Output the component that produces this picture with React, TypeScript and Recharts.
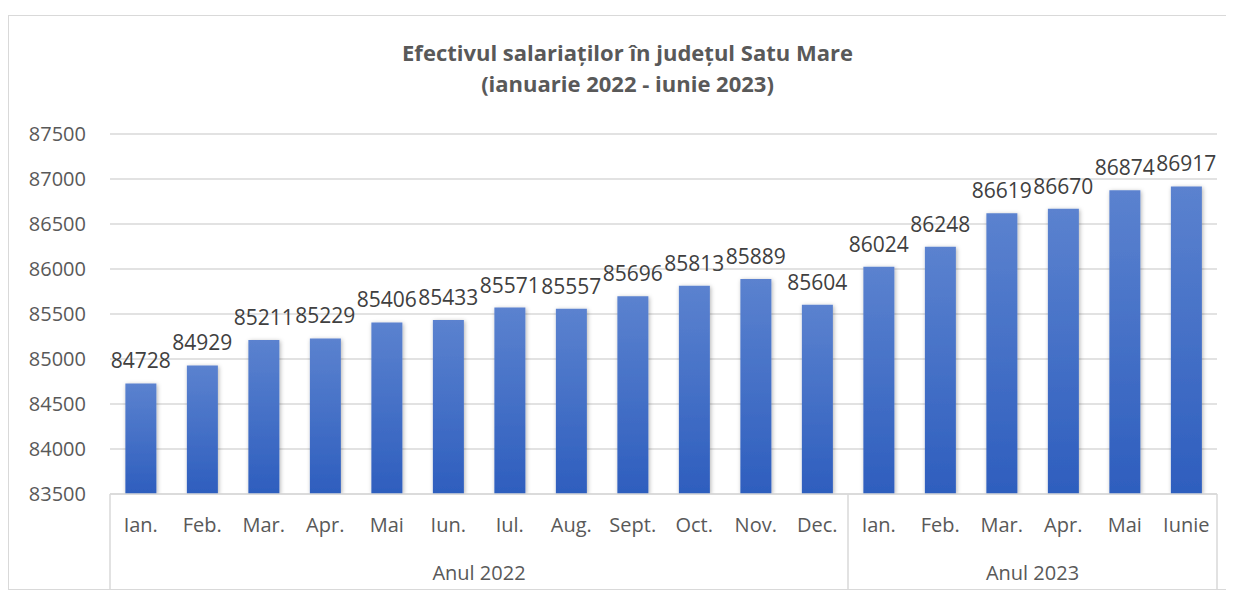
import React from "react";
import { BarChart, Bar, XAxis, YAxis, CartesianGrid, LabelList } from "recharts";

const months = ["Ian.", "Feb.", "Mar.", "Apr.", "Mai", "Iun.", "Iul.", "Aug.", "Sept.", "Oct.", "Nov.", "Dec.", "Ian.", "Feb.", "Mar.", "Apr.", "Mai", "Iunie"];
const years = ["Anul 2022", "Anul 2022", "Anul 2022", "Anul 2022", "Anul 2022", "Anul 2022", "Anul 2022", "Anul 2022", "Anul 2022", "Anul 2022", "Anul 2022", "Anul 2022", "Anul 2023", "Anul 2023", "Anul 2023", "Anul 2023", "Anul 2023", "Anul 2023"];
const employees = [84728, 84929, 85211, 85229, 85406, 85433, 85571, 85557, 85696, 85813, 85889, 85604, 86024, 86248, 86619, 86670, 86874, 86917];
const yTicks = [83500, 84000, 84500, 85000, 85500, 86000, 86500, 87000, 87500];

const data = months.map((m, i) => ({ key: i, month: m, year: years[i], value: employees[i] }));

const CHART_W = 1221;
const CHART_H = 573;
const M_TOP = 118;
const M_RIGHT = 13;
const Y_W = 101;
const PLOT_H = 360;
const MONTH_H = 48;
const YEAR_H = 47;
const BAND = (CHART_W - Y_W - M_RIGHT) / months.length;

const FONT = "'Open Sans', sans-serif";
const TEXT = "#595959";
const GRID = "#d9d9d9";

const MonthTick = (props: any) => {
  const { x, y, index } = props;
  return (
    <text x={x} y={y} dy={14} textAnchor="middle" fill={TEXT} fontSize={20} fontFamily={FONT}>
      {months[index]}
    </text>
  );
};

const YearTick = (props: any) => {
  const { x, index } = props;
  const year = years[index];
  const first = index === 0 || years[index - 1] !== year;
  const last = index === years.length - 1;
  const count = years.filter((y) => y === year).length;
  const top = M_TOP + PLOT_H;
  const bottom = CHART_H;
  const left = x - BAND / 2;
  return (
    <g>
      {first && <line x1={left} x2={left} y1={top} y2={bottom} stroke={GRID} strokeWidth={1.5} />}
      {last && <line x1={x + BAND / 2} x2={x + BAND / 2} y1={top} y2={bottom} stroke={GRID} strokeWidth={1.5} />}
      {first && (
        <text x={left + (count * BAND) / 2} y={top + 86} textAnchor="middle" fill={TEXT} fontSize={20} fontFamily={FONT}>
          {year}
        </text>
      )}
    </g>
  );
};

export default function App() {
  return (
    <div
      style={{
        position: "relative",
        width: CHART_W + 2,
        height: CHART_H + 2,
        marginTop: 7,
        border: `1px solid ${GRID}`,
        boxSizing: "border-box",
        background: "#fff",
        fontFamily: FONT,
      }}
    >
      <div
        style={{
          position: "absolute",
          left: 8,
          top: 21,
          width: CHART_W,
          textAlign: "center",
          color: TEXT,
          fontWeight: "bold",
          fontSize: 22,
          lineHeight: "31px",
          zIndex: 1,
        }}
      >
        Efectivul salariaților în județul Satu Mare
        <br />
        (ianuarie 2022 - iunie 2023)
      </div>
      <BarChart
        width={CHART_W}
        height={CHART_H}
        data={data}
        margin={{ top: M_TOP, right: M_RIGHT, bottom: 0, left: 0 }}
        barCategoryGap="25%"
      >
        <defs>
          <linearGradient id="barGrad" x1="0" y1="0" x2="0" y2="1">
            <stop offset="0%" stopColor="#5b82cf" />
            <stop offset="100%" stopColor="#2e5ebe" />
          </linearGradient>
          <filter id="barShadow" x="-30%" y="-10%" width="160%" height="120%">
            <feDropShadow dx="1" dy="1" stdDeviation="2" floodColor="#000" floodOpacity="0.3" />
          </filter>
        </defs>
        <CartesianGrid vertical={false} stroke={GRID} strokeWidth={1.5} />
        <XAxis
          dataKey="key"
          height={MONTH_H}
          interval={0}
          axisLine={{ stroke: GRID, strokeWidth: 1.5 }}
          tickLine={false}
          tickSize={0}
          tickMargin={24}
          tick={<MonthTick />}
        />
        <XAxis
          xAxisId="year"
          dataKey="key"
          height={YEAR_H}
          interval={0}
          axisLine={false}
          tickLine={false}
          tick={<YearTick />}
        />
        <YAxis
          width={Y_W}
          domain={[83500, 87500]}
          ticks={yTicks}
          axisLine={false}
          tickLine={false}
          tickSize={0}
          tickMargin={24}
          tick={{ fill: TEXT, fontSize: 20, fontFamily: FONT }}
          allowDataOverflow
        />
        <Bar dataKey="value" fill="url(#barGrad)" filter="url(#barShadow)" isAnimationActive={false}>
          <LabelList dataKey="value" position="top" offset={15} fill="#404040" fontSize={21} fontFamily={FONT} />
        </Bar>
      </BarChart>
    </div>
  );
}
